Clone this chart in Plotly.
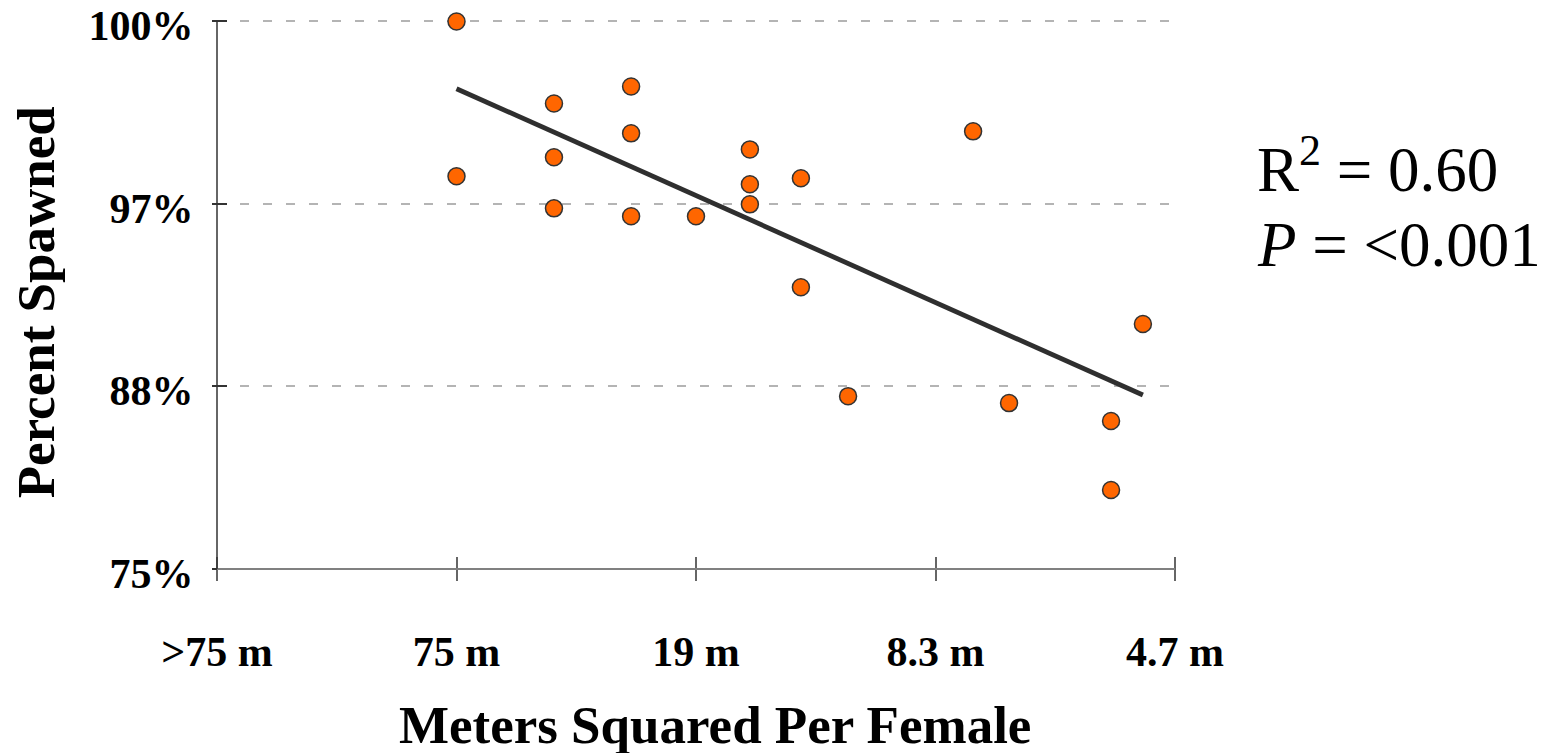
import numpy as np
import plotly.graph_objects as go

# Data (x in tick-position units, y in arcsine-sqrt degrees)
x_vals = [1.0, 1.0, 1.407, 1.407, 1.407, 1.729, 1.729, 1.729, 2.0, 2.225,
          2.225, 2.225, 2.438, 2.438, 2.635, 3.157, 3.307, 3.733, 3.733, 3.866]
y_vals = [90.0, 81.52, 85.51, 82.56, 79.76, 86.44, 83.87, 79.33, 79.33, 82.99,
          81.08, 79.98, 81.41, 75.44, 69.47, 83.98, 69.09, 68.11, 64.33, 73.42]

x_tickvals = [0, 1, 2, 3, 4]
x_ticktext = [">75 m", "75 m", "19 m", "8.3 m", "4.7 m"]
y_tickvals = [60, 70, 80, 90]
y_ticktext = ["75%", "88%", "97%", "100%"]

x_title = "Meters Squared Per Female"
y_title = "Percent Spawned"
stats_lines = ["R<sup>2</sup> = 0.60", "<i>P</i> = &lt;0.001"]

# Least-squares trend line
slope, intercept = np.polyfit(x_vals, y_vals, 1)
fit_x = [min(x_vals), max(x_vals)]
fit_y = [slope * v + intercept for v in fit_x]

FONT = "Liberation Serif, Times New Roman, serif"
XR = [0, 4]
YR = [60, 90.3]
PLOT_W = 1552 - 217 - 377
PLOT_H = 753 - 15.5 - 184

fig = go.Figure()
fig.add_trace(go.Scatter(x=fit_x, y=fit_y, mode="lines",
                         line=dict(color="#2f2f2f", width=4.8),
                         hoverinfo="skip", showlegend=False))
fig.add_trace(go.Scatter(x=x_vals, y=y_vals, mode="markers",
                         marker=dict(size=17, color="#ff6600",
                                     line=dict(color="#333333", width=1.5)),
                         cliponaxis=False, showlegend=False))

fig.update_layout(
    width=1552, height=753, autosize=False,
    margin=dict(l=217, r=377, t=15.5, b=184, autoexpand=False),
    paper_bgcolor="white", plot_bgcolor="white",
    font=dict(family=FONT, color="black"),
    # axes placed slightly inside so their outside ticks cross the axis lines
    xaxis=dict(range=XR, tickvals=x_tickvals, ticktext=x_ticktext,
               anchor="free", position=13 / PLOT_H, automargin=False,
               ticks="outside", ticklen=24, tickwidth=1.5, tickcolor="#666666",
               showline=False, showgrid=False, zeroline=False,
               ticklabelstandoff=35, ticklabeloverflow="allow",
               tickfont=dict(family=FONT, size=42, color="black", weight="bold")),
    yaxis=dict(range=YR, tickvals=y_tickvals, ticktext=y_ticktext,
               anchor="free", position=10 / PLOT_W, automargin=False,
               ticks="outside", ticklen=15, tickwidth=1.5, tickcolor="#333333",
               showline=False,
               showgrid=True, gridcolor="#b4b4b4", gridwidth=1.5, griddash="9px,14px",
               zeroline=False, ticklabelstandoff=10, ticklabelshift=4,
               ticklabeloverflow="allow",
               tickfont=dict(family=FONT, size=42, color="black", weight="bold")),
)

# axis lines
top_frac = (y_tickvals[-1] - YR[0]) / (YR[1] - YR[0])
fig.add_shape(type="line", xref="paper", yref="paper", x0=0, x1=1, y0=0, y1=0,
              line=dict(color="#808080", width=2))
fig.add_shape(type="line", xref="paper", yref="paper", x0=0, x1=0, y0=0, y1=top_frac,
              line=dict(color="#333333", width=1.5))

fig.add_annotation(text=x_title, xref="paper", yref="paper", x=0.520, y=-0.283,
                   xanchor="center", yanchor="middle", showarrow=False,
                   font=dict(family=FONT, size=53, color="black", weight="bold"))
fig.add_annotation(text=y_title, xref="paper", yref="paper", x=-0.188, y=0.482,
                   xanchor="center", yanchor="middle", textangle=-90, showarrow=False,
                   font=dict(family=FONT, size=53, color="black", weight="bold"))
fig.add_annotation(text=stats_lines[0], xref="paper", yref="paper", x=1.0835, y=0.729,
                   xanchor="left", yanchor="middle", showarrow=False,
                   font=dict(family=FONT, size=63, color="black"))
fig.add_annotation(text=stats_lines[1], xref="paper", yref="paper", x=1.0835, y=0.585,
                   xanchor="left", yanchor="middle", showarrow=False,
                   font=dict(family=FONT, size=63, color="black"))

fig.write_html("out.html")
